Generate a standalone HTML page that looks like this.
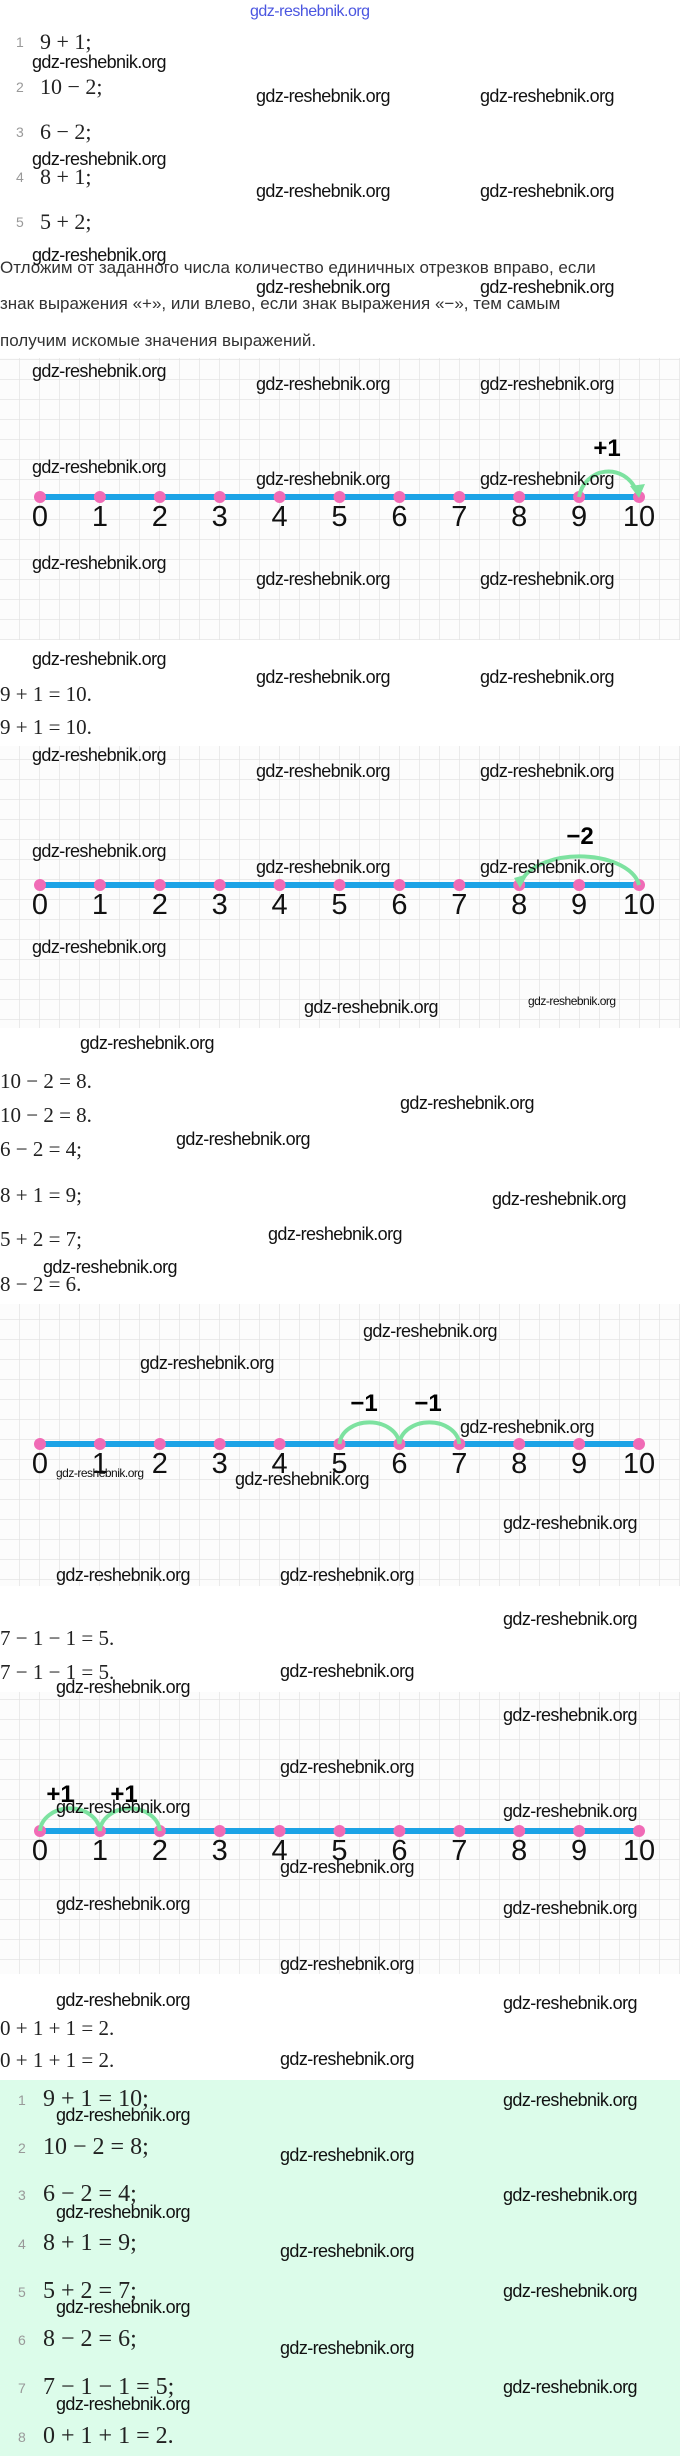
<!DOCTYPE html>
<html><head><meta charset="utf-8"><style>
body{margin:0;width:680px;height:2456px;position:relative;background:#fff;overflow:hidden;font-family:"Liberation Sans",sans-serif}
.a{position:absolute;white-space:nowrap;line-height:1}
.w{font-size:18px;color:#111;letter-spacing:-0.6px}
.ws{font-size:12px;color:#111;letter-spacing:-0.5px}
.m{font-family:"Liberation Serif",serif;font-size:22px;color:#222}
.r{font-family:"Liberation Serif",serif;font-size:21px;color:#222}
.n{font-size:14px;color:#999}
.p{font-family:"Liberation Sans","DejaVu Sans",sans-serif;font-size:17px;color:#333}
svg{position:absolute;left:0}
</style></head><body>
<div class="a" style="left:250px;top:4px;font-size:16px;color:#4a55e0;letter-spacing:-0.5px">gdz-reshebnik.org</div>

<div class="a n" style="left:16px;top:35px">1</div><div class="a m" style="left:40px;top:31px">9 + 1;</div>
<div class="a n" style="left:16px;top:80px">2</div><div class="a m" style="left:40px;top:76px">10 − 2;</div>
<div class="a n" style="left:16px;top:125px">3</div><div class="a m" style="left:40px;top:121px">6 − 2;</div>
<div class="a n" style="left:16px;top:170px">4</div><div class="a m" style="left:40px;top:166px">8 + 1;</div>
<div class="a n" style="left:16px;top:215px">5</div><div class="a m" style="left:40px;top:211px">5 + 2;</div>

<div class="a p" style="left:0;top:259px">Отложим от заданного числа количество единичных отрезков вправо, если</div>
<div class="a p" style="left:0;top:295px">знак выражения «+», или влево, если знак выражения «−», тем самым</div>
<div class="a p" style="left:0;top:332px">получим искомые значения выражений.</div>

<svg width="680" height="2456" style="top:0">
<defs>
<pattern id="g" width="20" height="20" patternUnits="userSpaceOnUse"><path d="M20 0V20M0 20H20" stroke="#e4e4e4" stroke-width="1.5" fill="none"/></pattern>
<g id="nl">
<line x1="40" y1="0" x2="639" y2="0" stroke="#1ca3e6" stroke-width="6"/>
<g fill="#f06bb6"><circle cx="40" r="6"/><circle cx="99.9" r="6"/><circle cx="159.8" r="6"/><circle cx="219.7" r="6"/><circle cx="279.6" r="6"/><circle cx="339.5" r="6"/><circle cx="399.4" r="6"/><circle cx="459.3" r="6"/><circle cx="519.2" r="6"/><circle cx="579.1" r="6"/><circle cx="639" r="6"/></g>
<g font-family="Liberation Sans,sans-serif" font-size="29" text-anchor="middle" fill="#111"><text x="40" y="29">0</text><text x="99.9" y="29">1</text><text x="159.8" y="29">2</text><text x="219.7" y="29">3</text><text x="279.6" y="29">4</text><text x="339.5" y="29">5</text><text x="399.4" y="29">6</text><text x="459.3" y="29">7</text><text x="519.2" y="29">8</text><text x="579.1" y="29">9</text><text x="639" y="29">10</text></g>
</g>
</defs>
<rect x="0" y="358" width="680" height="282" fill="#fcfcfc"/><rect x="0" y="358" width="680" height="282" fill="url(#g)"/>
<rect x="0" y="746" width="680" height="282" fill="#fcfcfc"/><rect x="0" y="746" width="680" height="282" fill="url(#g)"/>
<rect x="0" y="1304" width="680" height="282" fill="#fcfcfc"/><rect x="0" y="1304" width="680" height="282" fill="url(#g)"/>
<rect x="0" y="1692" width="680" height="282" fill="#fcfcfc"/><rect x="0" y="1692" width="680" height="282" fill="url(#g)"/>

<use href="#nl" y="497"/>
<path d="M579 497 A30 31 0 0 1 636 490" stroke="#7de2a0" stroke-width="4" fill="none"/>
<path d="M630 486 L645 484 L639 498 Z" fill="#7de2a0"/>
<text x="607" y="456" font-size="24" font-weight="bold" text-anchor="middle" font-family="Liberation Sans,sans-serif">+1</text>

<use href="#nl" y="885"/>
<path d="M639 885 A60 33 0 0 0 522 880" stroke="#7de2a0" stroke-width="4" fill="none"/>
<path d="M514 878 L528 874 L520 888 Z" fill="#7de2a0"/>
<text x="580" y="844" font-size="24" font-weight="bold" text-anchor="middle" font-family="Liberation Sans,sans-serif">−2</text>

<use href="#nl" y="1444"/>
<path d="M339.5 1444 A30 23 0 0 1 399.4 1444 A30 23 0 0 1 459.3 1444" stroke="#7de2a0" stroke-width="4" fill="none"/>
<g font-size="24" font-weight="bold" text-anchor="middle" font-family="Liberation Sans,sans-serif"><text x="364" y="1411">−1</text><text x="428" y="1411">−1</text></g>

<use href="#nl" y="1831"/>
<path d="M40 1831 A30 24 0 0 1 99.9 1831 A30 24 0 0 1 159.8 1831" stroke="#7de2a0" stroke-width="4" fill="none"/>
<g font-size="24" font-weight="bold" text-anchor="middle" font-family="Liberation Sans,sans-serif"><text x="60" y="1802">+1</text><text x="124" y="1802">+1</text></g>
<rect x="0" y="2080" width="680" height="376" fill="#dcfcea"/>
</svg>

<div class="a r" style="left:0;top:684px">9 + 1 = 10.</div>
<div class="a r" style="left:0;top:717px">9 + 1 = 10.</div>
<div class="a r" style="left:0;top:1071px">10 − 2 = 8.</div>
<div class="a r" style="left:0;top:1105px">10 − 2 = 8.</div>
<div class="a r" style="left:0;top:1139px">6 − 2 = 4;</div>
<div class="a r" style="left:0;top:1185px">8 + 1 = 9;</div>
<div class="a r" style="left:0;top:1229px">5 + 2 = 7;</div>
<div class="a r" style="left:0;top:1274px">8 − 2 = 6.</div>
<div class="a r" style="left:0;top:1628px">7 − 1 − 1 = 5.</div>
<div class="a r" style="left:0;top:1662px">7 − 1 − 1 = 5.</div>
<div class="a r" style="left:0;top:2018px">0 + 1 + 1 = 2.</div>
<div class="a r" style="left:0;top:2050px">0 + 1 + 1 = 2.</div>

<div class="a n" style="left:18px;top:2093px">1</div><div class="a m" style="left:43px;top:2087px;font-size:24px">9 + 1 = 10;</div>
<div class="a n" style="left:18px;top:2141px">2</div><div class="a m" style="left:43px;top:2135px;font-size:24px">10 − 2 = 8;</div>
<div class="a n" style="left:18px;top:2188px">3</div><div class="a m" style="left:43px;top:2182px;font-size:24px">6 − 2 = 4;</div>
<div class="a n" style="left:18px;top:2237px">4</div><div class="a m" style="left:43px;top:2231px;font-size:24px">8 + 1 = 9;</div>
<div class="a n" style="left:18px;top:2285px">5</div><div class="a m" style="left:43px;top:2279px;font-size:24px">5 + 2 = 7;</div>
<div class="a n" style="left:18px;top:2333px">6</div><div class="a m" style="left:43px;top:2327px;font-size:24px">8 − 2 = 6;</div>
<div class="a n" style="left:18px;top:2381px">7</div><div class="a m" style="left:43px;top:2375px;font-size:24px">7 − 1 − 1 = 5;</div>
<div class="a n" style="left:18px;top:2430px">8</div><div class="a m" style="left:43px;top:2424px;font-size:24px">0 + 1 + 1 = 2.</div>

<!-- watermarks -->
<div class="a w" style="left:32px;top:53px">gdz-reshebnik.org</div>
<div class="a w" style="left:32px;top:150px">gdz-reshebnik.org</div>
<div class="a w" style="left:32px;top:246px">gdz-reshebnik.org</div>
<div class="a w" style="left:32px;top:362px">gdz-reshebnik.org</div>
<div class="a w" style="left:32px;top:458px">gdz-reshebnik.org</div>
<div class="a w" style="left:32px;top:554px">gdz-reshebnik.org</div>
<div class="a w" style="left:32px;top:650px">gdz-reshebnik.org</div>
<div class="a w" style="left:256px;top:87px">gdz-reshebnik.org</div><div class="a w" style="left:480px;top:87px">gdz-reshebnik.org</div>
<div class="a w" style="left:256px;top:182px">gdz-reshebnik.org</div><div class="a w" style="left:480px;top:182px">gdz-reshebnik.org</div>
<div class="a w" style="left:256px;top:278px">gdz-reshebnik.org</div><div class="a w" style="left:480px;top:278px">gdz-reshebnik.org</div>
<div class="a w" style="left:256px;top:375px">gdz-reshebnik.org</div><div class="a w" style="left:480px;top:375px">gdz-reshebnik.org</div>
<div class="a w" style="left:256px;top:470px">gdz-reshebnik.org</div><div class="a w" style="left:480px;top:470px">gdz-reshebnik.org</div>
<div class="a w" style="left:256px;top:570px">gdz-reshebnik.org</div><div class="a w" style="left:480px;top:570px">gdz-reshebnik.org</div>
<div class="a w" style="left:256px;top:668px">gdz-reshebnik.org</div><div class="a w" style="left:480px;top:668px">gdz-reshebnik.org</div>
<div class="a w" style="left:32px;top:746px">gdz-reshebnik.org</div>
<div class="a w" style="left:256px;top:762px">gdz-reshebnik.org</div><div class="a w" style="left:480px;top:762px">gdz-reshebnik.org</div>
<div class="a w" style="left:32px;top:842px">gdz-reshebnik.org</div>
<div class="a w" style="left:256px;top:858px">gdz-reshebnik.org</div><div class="a w" style="left:480px;top:858px">gdz-reshebnik.org</div>
<div class="a w" style="left:32px;top:938px">gdz-reshebnik.org</div>
<div class="a w" style="left:304px;top:998px">gdz-reshebnik.org</div>
<div class="a ws" style="left:528px;top:995px">gdz-reshebnik.org</div>
<div class="a w" style="left:80px;top:1034px">gdz-reshebnik.org</div>
<div class="a w" style="left:400px;top:1094px">gdz-reshebnik.org</div>
<div class="a w" style="left:176px;top:1130px">gdz-reshebnik.org</div>
<div class="a w" style="left:492px;top:1190px">gdz-reshebnik.org</div>
<div class="a w" style="left:268px;top:1225px">gdz-reshebnik.org</div>
<div class="a w" style="left:43px;top:1258px">gdz-reshebnik.org</div>
<div class="a w" style="left:363px;top:1322px">gdz-reshebnik.org</div>
<div class="a w" style="left:140px;top:1354px">gdz-reshebnik.org</div>
<div class="a w" style="left:460px;top:1418px">gdz-reshebnik.org</div>
<div class="a ws" style="left:56px;top:1467px">gdz-reshebnik.org</div>
<div class="a w" style="left:235px;top:1470px">gdz-reshebnik.org</div>
<div class="a w" style="left:503px;top:1514px">gdz-reshebnik.org</div>
<div class="a w" style="left:56px;top:1566px">gdz-reshebnik.org</div>
<div class="a w" style="left:280px;top:1566px">gdz-reshebnik.org</div>
<div class="a w" style="left:503px;top:1610px">gdz-reshebnik.org</div>
<div class="a w" style="left:280px;top:1662px">gdz-reshebnik.org</div>
<div class="a w" style="left:56px;top:1678px">gdz-reshebnik.org</div>
<div class="a w" style="left:503px;top:1706px">gdz-reshebnik.org</div>
<div class="a w" style="left:280px;top:1758px">gdz-reshebnik.org</div>
<div class="a w" style="left:56px;top:1798px">gdz-reshebnik.org</div>
<div class="a w" style="left:503px;top:1802px">gdz-reshebnik.org</div>
<div class="a w" style="left:280px;top:1858px">gdz-reshebnik.org</div>
<div class="a w" style="left:56px;top:1895px">gdz-reshebnik.org</div>
<div class="a w" style="left:503px;top:1899px">gdz-reshebnik.org</div>
<div class="a w" style="left:280px;top:1955px">gdz-reshebnik.org</div>
<div class="a w" style="left:56px;top:1991px">gdz-reshebnik.org</div>
<div class="a w" style="left:503px;top:1994px">gdz-reshebnik.org</div>
<div class="a w" style="left:280px;top:2050px">gdz-reshebnik.org</div>
<div class="a w" style="left:503px;top:2091px">gdz-reshebnik.org</div>
<div class="a w" style="left:56px;top:2106px">gdz-reshebnik.org</div>
<div class="a w" style="left:280px;top:2146px">gdz-reshebnik.org</div>
<div class="a w" style="left:503px;top:2186px">gdz-reshebnik.org</div>
<div class="a w" style="left:56px;top:2203px">gdz-reshebnik.org</div>
<div class="a w" style="left:280px;top:2242px">gdz-reshebnik.org</div>
<div class="a w" style="left:503px;top:2282px">gdz-reshebnik.org</div>
<div class="a w" style="left:56px;top:2298px">gdz-reshebnik.org</div>
<div class="a w" style="left:280px;top:2339px">gdz-reshebnik.org</div>
<div class="a w" style="left:503px;top:2378px">gdz-reshebnik.org</div>
<div class="a w" style="left:56px;top:2395px">gdz-reshebnik.org</div>
</body></html>
